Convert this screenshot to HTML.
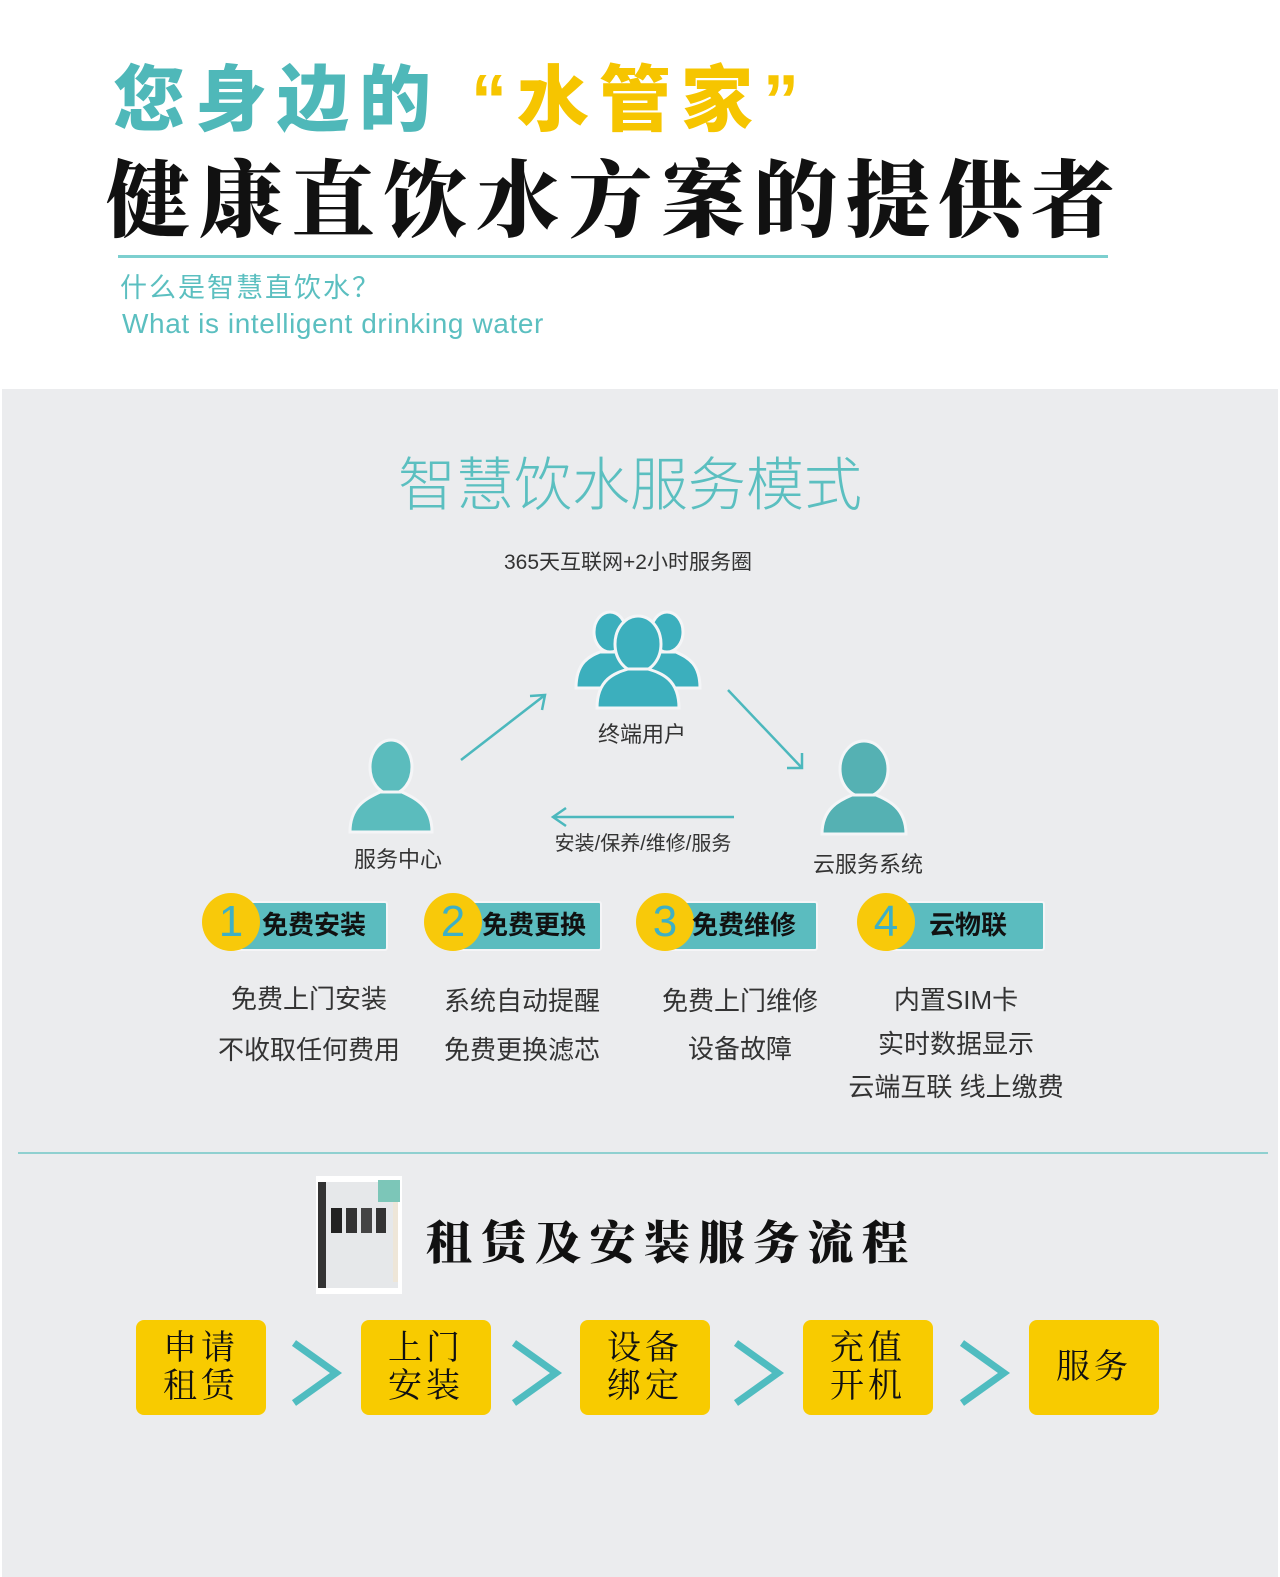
<!DOCTYPE html>
<html><head><meta charset="utf-8">
<style>
html,body{margin:0;padding:0;}
body{width:1280px;height:1577px;position:relative;background:#fff;overflow:hidden;font-family:"Liberation Sans","Noto Sans CJK SC",sans-serif;}
.a{position:absolute;white-space:nowrap;}
.gray{position:absolute;left:2px;top:389px;width:1276px;height:1188px;background:#ebecee;}
.t{color:#333;font-size:26px;text-align:center;}
.badge{position:absolute;height:48px;}
.badge .r{position:absolute;left:28px;top:2px;height:46px;background:#5bbcbf;border-radius:3px;border:2px solid #f5f5f7;}
.badge .c{position:absolute;left:0;top:-6px;width:58px;height:58px;border-radius:50%;background:#f8c90a;color:#3fb0c4;font-size:44px;line-height:58px;text-align:center;font-weight:300;}
.badge .l{position:absolute;top:6px;font-size:26px;color:#111;font-weight:bold;}
.box{position:absolute;top:1320px;width:130px;height:95px;background:#f8cb00;border-radius:8px;font-family:"Liberation Serif","Noto Serif CJK SC",serif;font-size:34px;line-height:38px;color:#111;text-align:center;display:flex;align-items:center;justify-content:center;letter-spacing:4px;}
</style></head><body>
<div class="a" style="left:113px;top:56px;font-size:72px;font-weight:900;color:#4fb8b9;letter-spacing:10px;line-height:90px;">您身边的<span style="color:#f6c500;margin-left:30px;">“水管家”</span></div>
<div class="a" style="left:106px;top:148px;font-size:84px;font-weight:900;color:#111;font-family:'Liberation Serif','Noto Serif CJK SC',serif;line-height:110px;letter-spacing:8.5px;">健康直饮水方案的提供者</div>
<div class="a" style="left:118px;top:255px;width:990px;height:3px;background:#7ccfcf;"></div>
<div class="a" style="left:120px;top:270px;font-size:27px;color:#5bbfc0;line-height:36px;letter-spacing:2px;">什么是智慧直饮水？</div>
<div class="a" style="left:122px;top:308px;font-size:28px;color:#5bbfc0;line-height:32px;letter-spacing:0.6px;">What is intelligent drinking water</div>

<div class="gray"></div>
<div class="a" style="left:0;width:1260px;top:450px;text-align:center;font-size:58px;color:#5bbfc0;font-weight:300;line-height:72px;">智慧饮水服务模式</div>
<div class="a" style="left:0;width:1256px;top:546px;text-align:center;font-size:21px;color:#333;">365天互联网+2小时服务圈</div>

<svg class="a" style="left:0;top:0" width="1280" height="1577">
<g fill="#3cafbd" stroke="#f4f5f7" stroke-width="3">
<ellipse cx="610" cy="632" rx="16" ry="20"/>
<path d="M576 688 C576 662 590 656 600 652 L620 652 C628 657 642 662 642 688 Z"/>
<ellipse cx="667" cy="632" rx="16" ry="20"/>
<path d="M634 688 C634 662 648 656 656 652 L676 652 C686 657 700 662 700 688 Z"/>
<ellipse cx="638" cy="644" rx="23" ry="28"/>
<path d="M597 708 C597 679 615 673 628 669 L648 669 C661 673 679 679 679 708 Z"/>
</g>
<g fill="#5bbcbd" stroke="#f4f5f7" stroke-width="3">
<ellipse cx="391" cy="767" rx="21" ry="27"/>
<path d="M350 832 C350 805 368 798 380 792 L402 792 C414 798 432 805 432 832 Z"/>
</g>
<g fill="#55b1b3" stroke="#f4f5f7" stroke-width="3">
<ellipse cx="864" cy="769" rx="24" ry="28"/>
<path d="M822 834 C822 808 840 800 852 795 L876 795 C888 800 906 808 906 834 Z"/>
</g>
<g stroke="#4cb8bd" stroke-width="2.5" fill="none">
<line x1="461" y1="760" x2="545" y2="695"/>
<polyline points="530,696 545,695 542,710"/>
<line x1="728" y1="690" x2="802" y2="768"/>
<polyline points="787,768 802,768 802,753"/>
<line x1="734" y1="817" x2="553" y2="817"/>
<polyline points="566,808 553,817 566,826"/>
<line x1="18" y1="1153" x2="1268" y2="1153" stroke="#8fd0d0" stroke-width="2"/>
</g>
<g stroke="#4fbcc0" stroke-width="7" fill="none">
<polyline points="294,1343 336,1373 294,1403"/>
<polyline points="514,1343 556,1373 514,1403"/>
<polyline points="736,1343 778,1373 736,1403"/>
<polyline points="962,1343 1004,1373 962,1403"/>
</g>
<rect x="316" y="1176" width="86" height="118" fill="#fff"/>
<rect x="318" y="1182" width="80" height="106" fill="#e6e8ea"/>
<rect x="318" y="1182" width="8" height="106" fill="#333"/>
<rect x="331" y="1208" width="11" height="25" fill="#222"/>
<rect x="346" y="1208" width="11" height="25" fill="#333"/>
<rect x="361" y="1208" width="11" height="25" fill="#444"/>
<rect x="376" y="1208" width="10" height="25" fill="#333"/>
<rect x="378" y="1180" width="22" height="22" fill="#7cc6b8"/>
<rect x="393" y="1202" width="5" height="80" fill="#eee6d8"/>
</svg>

<div class="a t" style="left:537px;width:210px;top:717px;font-size:22px;">终端用户</div>
<div class="a t" style="left:300px;width:196px;top:842px;font-size:22px;">服务中心</div>
<div class="a t" style="left:760px;width:216px;top:847px;font-size:22px;">云服务系统</div>
<div class="a t" style="left:520px;width:246px;top:827px;font-size:20px;">安装/保养/维修/服务</div>

<div class="badge" style="left:202px;top:899px;width:190px;"><div class="r" style="width:154px"></div><div class="c">1</div><div class="l" style="left:60px">免费安装</div></div>
<div class="badge" style="left:424px;top:899px;width:190px;"><div class="r" style="width:146px"></div><div class="c">2</div><div class="l" style="left:58px">免费更换</div></div>
<div class="badge" style="left:636px;top:899px;width:190px;"><div class="r" style="width:150px"></div><div class="c">3</div><div class="l" style="left:56px">免费维修</div></div>
<div class="badge" style="left:857px;top:899px;width:190px;"><div class="r" style="width:156px"></div><div class="c">4</div><div class="l" style="left:72px">云物联</div></div>

<div class="a t" style="left:189px;width:240px;top:984px;line-height:30px;">免费上门安装</div>
<div class="a t" style="left:189px;width:240px;top:1035px;line-height:30px;">不收取任何费用</div>
<div class="a t" style="left:402px;width:240px;top:986px;line-height:30px;">系统自动提醒</div>
<div class="a t" style="left:402px;width:240px;top:1035px;line-height:30px;">免费更换滤芯</div>
<div class="a t" style="left:620px;width:240px;top:986px;line-height:30px;">免费上门维修</div>
<div class="a t" style="left:620px;width:240px;top:1034px;line-height:30px;">设备故障</div>
<div class="a t" style="left:836px;width:240px;top:985px;line-height:30px;">内置SIM卡</div>
<div class="a t" style="left:836px;width:240px;top:1029px;line-height:30px;">实时数据显示</div>
<div class="a t" style="left:836px;width:240px;top:1072px;line-height:30px;">云端互联 线上缴费</div>

<div class="a" style="left:426px;top:1214px;font-size:46px;font-weight:900;color:#111;font-family:'Liberation Serif','Noto Serif CJK SC',serif;letter-spacing:8.5px;line-height:60px;">租赁及安装服务流程</div>

<div class="box" style="left:136px;">申请<br>租赁</div>
<div class="box" style="left:361px;">上门<br>安装</div>
<div class="box" style="left:580px;">设备<br>绑定</div>
<div class="box" style="left:803px;">充值<br>开机</div>
<div class="box" style="left:1029px;">服务</div>
</body></html>
